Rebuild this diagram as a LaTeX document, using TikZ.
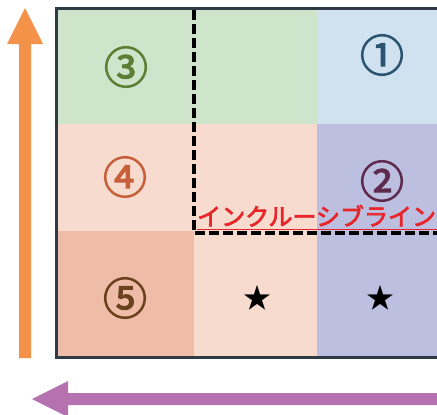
\documentclass[tikz,border=0pt]{standalone}
\usepackage{fontspec}
\newfontfamily\jp{Noto Sans CJK JP}
\newfontfamily\jpnum[FakeBold=2.5]{Noto Sans CJK JP}
\newfontfamily\jpbold[FakeBold=3]{Noto Sans CJK JP}
\definecolor{cgreen}{HTML}{CFE5CB}
\definecolor{cblue}{HTML}{D0E2F0}
\definecolor{cpeach}{HTML}{F8DBCF}
\definecolor{clav}{HTML}{BCBFE0}
\definecolor{csalmon}{HTML}{EFBCA8}
\definecolor{framec}{HTML}{2E3A44}
\definecolor{tgreen}{HTML}{5B7F34}
\definecolor{tblue}{HTML}{2B5470}
\definecolor{torange}{HTML}{C5603A}
\definecolor{tpurple}{HTML}{5E2B4F}
\definecolor{tbrown}{HTML}{6B421E}
\definecolor{linered}{HTML}{E8262A}
\definecolor{arrorange}{HTML}{F5924A}
\definecolor{arrpurple}{HTML}{B672B0}
\tikzset{
  num/.style={inner sep=0pt, font=\jpnum\fontsize{44}{44}\selectfont},
  starmark/.style={inner sep=0pt, font=\jp\fontsize{28}{28}\selectfont, text=black},
  dashline/.style={draw=black, line width=4.6pt, dash pattern=on 10pt off 4pt},
  incl/.style={inner sep=0pt, text=linered, font=\jpbold\fontsize{24}{24}\selectfont},
}
\begin{document}
\begin{tikzpicture}[x=1pt,y=-1pt]
\useasboundingbox (0,0) rectangle (437,415);
\clip (0,0) rectangle (437,415);
\fill[white] (0,0) rectangle (437,415);
% cells
\fill[cgreen] (57,9) rectangle (317,124);
\fill[cblue] (317,9) rectangle (445,124);
\fill[cpeach] (57,124) rectangle (317,231);
\fill[clav] (317,124) rectangle (445,358);
\fill[csalmon] (57,231) rectangle (194,358);
\fill[cpeach] (194,231) rectangle (317,358);
% frame
\draw[framec, line width=2.5pt] (56.5,8.5) rectangle (450,357.5);
% dashed boundary
\draw[dashline] (194,10) -- (194,233) -- (450,233);
% labels
\node[num, text=tgreen] (n3) at (126,67) {③};
\node[num, text=tblue] (n1) at (382,55) {①};
\node[num, text=torange] (n4) at (125,177) {④};
\node[num, text=tpurple] (n2) at (382,181) {②};
\node[num, text=tbrown] (n5) at (125,298) {⑤};
\node[starmark] (s1) at (257,298) {★};
\node[starmark] (s2) at (380,298) {★};
\node[incl, anchor=base west] (il) at (197,225.5) {インクルーシブライン};
\draw[linered, line width=1.5pt] (197,229.5) -- (450,229.5);
% orange arrow
\fill[arrorange] (19,358) -- (19,44) -- (7,44) -- (25,8) -- (43,44) -- (31,44) -- (31,358) -- cycle;
% purple arrow
\fill[arrpurple] (450,393) -- (68,393) -- (68,381) -- (32,399) -- (68,417) -- (68,405) -- (450,405) -- cycle;
\end{tikzpicture}
\end{document}
